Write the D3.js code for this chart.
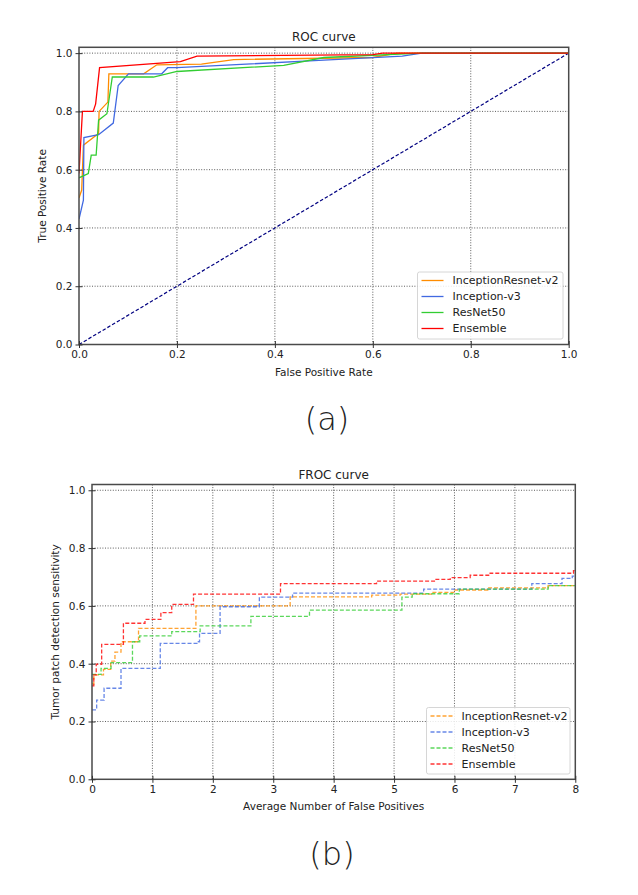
<!DOCTYPE html>
<html><head><meta charset="utf-8">
<script src="https://cdn.jsdelivr.net/npm/d3@7"></script>
<style>body{margin:0;background:#fff}svg{display:block}text{font-family:"DejaVu Sans",sans-serif;fill:#222}</style>
</head><body>
<script>
// ---------- DATA ----------
const seriesNames = ["InceptionResnet-v2", "Inception-v3", "ResNet50", "Ensemble"];
const seriesColors = ["#FF8C00", "#4169E1", "#32CD32", "#FF0000"];
const rocTicks = [0.0, 0.2, 0.4, 0.6, 0.8, 1.0];
const frocXTicks = [0, 1, 2, 3, 4, 5, 6, 7, 8];
const frocYTicks = [0.0, 0.2, 0.4, 0.6, 0.8, 1.0];

// ROC curves: [fpr, tpr]
const rocIncRes = [[0,0.503],[0.0055,0.53],[0.009,0.684],[0.04,0.724],[0.041,0.80],[0.059,0.832],[0.061,0.929],[0.132,0.929],[0.159,0.96],[0.25,0.962],[0.316,0.978],[0.6,0.985],[0.65,1.0],[1.0,1.0]];
const rocIncV3 = [[0,0.43],[0.009,0.495],[0.01,0.71],[0.04,0.72],[0.07,0.76],[0.08,0.889],[0.101,0.929],[0.169,0.929],[0.181,0.95],[0.2,0.95],[0.49,0.975],[0.66,0.99],[0.7,1.0],[1.0,1.0]];
const rocRes50 = [[0,0.572],[0.019,0.587],[0.025,0.65],[0.035,0.65],[0.04,0.77],[0.057,0.792],[0.068,0.918],[0.152,0.918],[0.2,0.937],[0.418,0.958],[0.5,0.985],[0.7,1.0],[1.0,1.0]];
const rocEns = [[0,0.587],[0.007,0.80],[0.029,0.80],[0.034,0.826],[0.042,0.95],[0.207,0.971],[0.241,0.99],[0.6,0.995],[0.62,1.0],[1.0,1.0]];
const rocDiag = [[0,0],[1,1]];

// FROC curves (step-after): [avg FP, sensitivity]
const frocIncRes = [[0,0.33],[0.03,0.361],[0.19,0.38],[0.31,0.409],[0.38,0.44],[0.48,0.476],[0.77,0.522],[1.72,0.60],[3.28,0.631],[4.63,0.637],[5.1,0.641],[5.63,0.647],[6.0,0.655],[6.55,0.662],[7.55,0.67],[8,0.67]];
const frocIncV3 = [[0,0.24],[0.077,0.274],[0.2,0.315],[0.48,0.384],[1.13,0.47],[1.76,0.476],[1.78,0.505],[2.12,0.597],[2.77,0.63],[3.32,0.644],[5.49,0.658],[7.28,0.677],[7.78,0.695],[7.95,0.703],[8,0.703]];
const frocRes50 = [[0,0.363],[0.15,0.384],[0.315,0.404],[0.67,0.476],[0.79,0.496],[1.32,0.511],[1.79,0.531],[2.63,0.564],[3.6,0.585],[5.13,0.63],[5.3,0.642],[6.08,0.658],[7.55,0.67],[8,0.67]];
const frocEns = [[0,0.323],[0.03,0.361],[0.07,0.398],[0.16,0.467],[0.52,0.54],[0.877,0.553],[1.14,0.577],[1.32,0.605],[1.68,0.641],[3.12,0.677],[4.71,0.686],[5.68,0.692],[5.93,0.698],[6.26,0.706],[6.59,0.713],[7.97,0.722],[8,0.722]];

const rocSeries = [rocIncRes, rocIncV3, rocRes50, rocEns];
const frocSeries = [frocIncRes, frocIncV3, frocRes50, frocEns];

// ---------- DRAW ----------
const W = 638, H = 895;
const svg = d3.select("body").append("svg").attr("width", W).attr("height", H);

function panel(o) {
  const x = d3.scaleLinear().domain(o.xDomain).range([o.left, o.right]);
  const y = d3.scaleLinear().domain([0, 1.02]).range([o.bottom, o.top]);
  const g = svg.append("g");
  // grid
  g.selectAll(".gx").data(o.xTicks.filter(t => t > o.xDomain[0] && t < o.xDomain[1])).enter().append("line")
    .attr("x1", d => x(d)).attr("x2", d => x(d)).attr("y1", o.top).attr("y2", o.bottom)
    .attr("stroke", "#333").attr("stroke-width", 0.8).attr("stroke-dasharray", "1,1.6");
  g.selectAll(".gy").data(o.yTicks.filter(t => t > 0)).enter().append("line")
    .attr("y1", d => y(d)).attr("y2", d => y(d)).attr("x1", o.left).attr("x2", o.right)
    .attr("stroke", "#333").attr("stroke-width", 0.8).attr("stroke-dasharray", "1,1.6");
  // curves
  const clip = "clip" + o.id;
  svg.append("clipPath").attr("id", clip).append("rect")
    .attr("x", o.left).attr("y", o.top).attr("width", o.right - o.left).attr("height", o.bottom - o.top);
  const cg = g.append("g").attr("clip-path", `url(#${clip})`);
  if (o.diag) {
    cg.append("path").attr("d", d3.line().x(d => x(d[0])).y(d => y(d[1]))(o.diag))
      .attr("fill", "none").attr("stroke", "#000080").attr("stroke-width", 1.2).attr("stroke-dasharray", "3.5,2");
  }
  const line = d3.line().x(d => x(d[0])).y(d => y(d[1])).curve(o.step ? d3.curveStepAfter : d3.curveLinear);
  o.series.forEach((s, i) => {
    cg.append("path").attr("d", line(s)).attr("fill", "none")
      .attr("stroke", seriesColors[i]).attr("stroke-width", 1.3)
      .attr("stroke-opacity", o.step ? 0.8 : 1)
      .attr("stroke-dasharray", o.step ? "4,2" : null);
  });
  // frame
  g.append("rect").attr("x", o.left).attr("y", o.top).attr("width", o.right - o.left).attr("height", o.bottom - o.top)
    .attr("fill", "none").attr("stroke", "#4a4a4a").attr("stroke-width", 1.5);
  // ticks
  const xAxis = d3.axisBottom(x).tickValues(o.xTicks).tickFormat(o.xFmt).tickSize(3.5).tickPadding(3);
  const xa = g.append("g").attr("transform", `translate(0,${o.bottom})`).call(xAxis);
  const yAxis = d3.axisLeft(y).tickValues(o.yTicks).tickFormat(d3.format(".1f")).tickSize(3.5).tickPadding(3);
  const ya = g.append("g").attr("transform", `translate(${o.left},0)`).call(yAxis);
  [xa, ya].forEach(a => {
    a.select(".domain").remove();
    a.selectAll(".tick line").attr("stroke", "#333").attr("stroke-width", 1);
    a.selectAll(".tick text").attr("font-size", 10.5).attr("font-family", "DejaVu Sans").attr("fill", "#222");
  });
  xa.selectAll(".tick").append("line").attr("y1", 0).attr("y2", -3.5).attr("stroke", "#333");
  ya.selectAll(".tick").append("line").attr("x1", 0).attr("x2", 3.5).attr("stroke", "#333");
  // titles & labels
  g.append("text").attr("x", (o.left + o.right) / 2).attr("y", o.top - 6).attr("text-anchor", "middle")
    .attr("font-size", 12).text(o.title);
  g.append("text").attr("x", (o.left + o.right) / 2).attr("y", o.bottom + 31).attr("text-anchor", "middle")
    .attr("font-size", 10.5).text(o.xLabel);
  g.append("text").attr("transform", `translate(${o.yLabelX},${(o.top + o.bottom) / 2}) rotate(-90)`)
    .attr("text-anchor", "middle").attr("font-size", 10.5).text(o.yLabel);
  // legend
  const L = o.legend;
  g.append("rect").attr("x", L.x).attr("y", L.y).attr("width", L.w).attr("height", L.h).attr("rx", 2)
    .attr("fill", "#fff").attr("fill-opacity", 0.85).attr("stroke", "#ccc").attr("stroke-width", 0.8);
  seriesNames.forEach((n, i) => {
    const yy = L.y + 8.5 + i * 16;
    g.append("line").attr("x1", L.x + 4).attr("x2", L.x + 26).attr("y1", yy).attr("y2", yy)
      .attr("stroke", seriesColors[i]).attr("stroke-width", 1.3)
      .attr("stroke-opacity", o.step ? 0.8 : 1)
      .attr("stroke-dasharray", o.step ? "4,2" : null);
    g.append("text").attr("x", L.x + 35).attr("y", yy + 3.9).attr("font-size", 11).text(n);
  });
  // panel letter
  svg.append("text").attr("x", o.letterX).attr("y", o.letterY).attr("text-anchor", "middle")
    .attr("font-family", "'Noto Sans CJK SC','Noto Sans',sans-serif").attr("font-weight", 350)
    .attr("font-size", 32).attr("fill", "#111").text(o.letter);
}

panel({
  id: "a", left: 79, right: 568.7, top: 47.3, bottom: 344.5,
  xDomain: [0, 1], xTicks: rocTicks, yTicks: rocTicks, xFmt: d3.format(".1f"),
  series: rocSeries, diag: rocDiag, step: false,
  title: "ROC curve", xLabel: "False Positive Rate", yLabel: "True Positive Rate", yLabelX: 46,
  legend: {x: 417.5, y: 272, w: 145.5, h: 67},
  letter: "(a)", letterX: 327, letterY: 430
});
panel({
  id: "b", left: 92, right: 575.3, top: 484.5, bottom: 779.3,
  xDomain: [0, 8], xTicks: frocXTicks, yTicks: frocYTicks, xFmt: d3.format("d"),
  series: frocSeries, step: true,
  title: "FROC curve", xLabel: "Average Number of False Positives", yLabel: "Tumor patch detection sensitivity", yLabelX: 59,
  legend: {x: 426.5, y: 707.5, w: 143.5, h: 66.5},
  letter: "(b)", letterX: 332, letterY: 865
});
</script>
</body></html>
